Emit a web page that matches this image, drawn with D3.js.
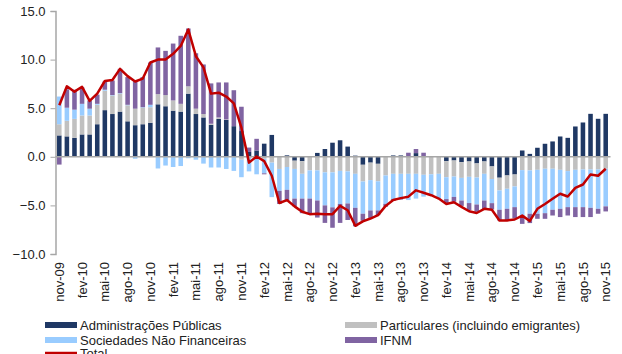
<!DOCTYPE html>
<html>
<head>
<meta charset="utf-8">
<script src="https://cdn.jsdelivr.net/npm/d3@7/dist/d3.min.js"></script>
<style>
  html, body { margin: 0; padding: 0; background: #fff; }
  svg { display: block; font-family: "Liberation Sans", Arial, sans-serif; }
</style>
</head>
<body>
<svg id="chart" width="622" height="354"></svg>
<script>
// Monthly categories, nov-09 .. nov-15
const monthNames = ["jan","fev","mar","abr","mai","jun","jul","ago","set","out","nov","dez"];
const months = [];
for (let y = 2009, m = 10; y < 2015 || (y === 2015 && m <= 10); m++) {
  if (m === 12) { m = 0; y++; }
  months.push(monthNames[m] + "-" + String(y).slice(2));
}

// Contributions (p.p.)
const administracoesPublicas = [
  2.2, 2.1, 1.95, 2.3, 2.3, 3.35, 4.8, 4.4, 4.65, 3.65, 3.25, 3.35,
  3.5, 5.4, 5.2, 4.75, 4.65, 6.5, 4.4, 4.05, 3.3, 3.9, 3.8, 3.15,
  2.65, 0.5, 0.65, 1.35, 2.25, 0.0, 0.15, -0.4, -0.45, 0.0, 0.4, 0.8,
  1.45, 1.7, 1.05, 0.12, -0.82, -0.6, -0.72, 0.0, 0.14, 0.14, 0.0, 0.38,
  0.0, 0.0, 0.0, -0.45, -0.38, -0.55, -0.48, -0.68, -0.48, -0.99, -2.15, -1.92,
  -1.82, 0.65, 0.3, 0.93, 1.34, 1.58, 2.09, 1.95, 3.12, 3.53, 4.42, 3.91,
  4.42
];
const particulares = [
  1.15, 1.6, 1.95, 1.95, 1.95, 2.0, 2.0, 1.9, 1.85, 1.65, 1.7, 1.7,
  1.6, 1.05, 1.15, 1.05, 0.8, 0.75, 0.55, 0.35, 0.1, 0.15, 0.05, 0.0,
  -0.3, -0.1, -0.2, -0.2, -0.6, -1.25, -1.05, -0.85, -1.3, -1.4, -1.4, -1.6,
  -1.6, -1.45, -1.5, -1.75, -1.72, -1.8, -1.8, -1.92, -1.75, -1.75, -1.75, -1.75,
  -1.85, -1.8, -1.75, -1.65, -1.65, -1.62, -1.58, -1.45, -1.27, -1.3, -1.31, -1.37,
  -1.23, -1.37, -1.4, -1.34, -1.23, -1.23, -1.34, -1.47, -1.34, -1.3, -1.3, -1.3,
  -1.23
];
const sociedadesNaoFinanceiras = [
  2.85, 1.35, 0.95, 1.2, 0.7, 0.1, 0.1, 0.05, 0.05, 0.05, -0.2, 0.05,
  0.25, -1.2, -0.9, -1.05, -0.95, -0.15, -0.3, -0.7, -1.1, -1.1, -1.25, -1.45,
  -1.8, -1.4, -1.6, -1.5, -3.55, -2.25, -2.35, -3.05, -2.55, -2.9, -3.1, -3.4,
  -3.6, -3.4, -3.3, -3.5, -3.32, -3.12, -3.0, -2.92, -2.6, -2.5, -2.7, -2.55,
  -2.25, -2.1, -2.55, -2.25, -2.1, -2.33, -2.7, -2.78, -2.75, -2.48, -1.99, -2.06,
  -2.13, -4.67, -4.46, -4.52, -4.57, -4.22, -4.01, -3.71, -3.84, -3.88, -3.95, -4.05,
  -3.87
];
const ifnm = [
  -0.8, 1.9, 2.05, 1.7, 0.85, 0.95, 0.85, 1.5, 2.5, 2.85, 2.9, 3.1,
  4.35, 4.8, 4.55, 5.85, 7.0, 5.95, 5.7, 5.1, 4.15, 3.6, 3.8, 3.7,
  2.5, 0.45, 1.2, -0.1, 0.0, -1.35, -1.1, -0.8, -1.5, -1.55, -1.75, -1.8,
  -2.1, -1.95, -1.7, -1.9, -0.72, -0.76, -0.48, -0.3, -0.2, -0.15, 0.42, 0.42,
  0.42, -0.05, 0.0, -0.45, -0.5, -0.55, -0.72, -0.75, -0.9, -0.65, -1.1, -1.2,
  -1.15, -0.86, -0.96, -0.52, -0.58, -0.59, -0.85, -0.86, -1.02, -1.02, -0.95, -0.51,
  -0.52
];
const total = [
  5.3, 7.25, 6.7, 7.2, 5.75, 6.5, 7.8, 7.9, 9.05, 8.3, 7.75, 8.05,
  9.7, 10.0, 10.0, 10.6, 11.4, 13.1, 10.35, 9.2, 6.5, 6.6, 6.2, 5.5,
  3.0, -0.6, 0.03, -0.45, -1.95, -4.75, -4.45, -5.1, -5.65, -5.9, -5.85, -5.9,
  -5.9, -5.05, -5.5, -7.1, -6.65, -6.35, -6.0, -5.05, -4.45, -4.25, -4.1, -3.45,
  -3.7, -3.95, -4.3, -4.85, -4.68, -5.15, -5.6, -5.78, -5.35, -5.45, -6.55, -6.55,
  -6.45, -6.05, -6.6, -5.35, -4.85, -4.32, -3.8, -4.08, -3.19, -2.85, -1.82, -1.95,
  -1.23
];

const yTicks = [15, 10, 5, 0, -5, -10];
const xTickLabels = months.filter((d, i) => i % 3 === 0);

const seriesKeys = ["ap", "part", "snf", "ifnm"];
const seriesNames = {
  ap: "Administrações Públicas",
  part: "Particulares (incluindo emigrantes)",
  snf: "Sociedades Não Financeiras",
  ifnm: "IFNM"
};
const colors = { ap: "#1f3864", part: "#c0c0c0", snf: "#99ccff", ifnm: "#8064a2", total: "#c00000" };

const table = months.map((m, i) => ({
  month: m,
  ap: administracoesPublicas[i],
  part: particulares[i],
  snf: sociedadesNaoFinanceiras[i],
  ifnm: ifnm[i],
  total: total[i]
}));

const svg = d3.select("#chart");
const plot = { left: 55.5, right: 609.5, top: 11, bottom: 254 };

const x = d3.scaleBand().domain(months)
  .range([plot.left, plot.right]).paddingInner(0.4).paddingOuter(0.2);
const y = d3.scaleLinear().domain([-10, 15]).range([plot.bottom, plot.top]);

const stack = d3.stack().keys(seriesKeys).offset(d3.stackOffsetDiverging);
const layers = stack(table);

svg.append("g").selectAll("g").data(layers).join("g")
  .attr("fill", d => colors[d.key])
  .selectAll("rect").data(d => d).join("rect")
  .attr("x", d => x(d.data.month))
  .attr("width", x.bandwidth())
  .attr("y", d => y(Math.max(d[0], d[1])))
  .attr("height", d => Math.abs(y(d[0]) - y(d[1])));

// zero line
svg.append("line")
  .attr("x1", plot.left).attr("x2", plot.right + 1)
  .attr("y1", y(0)).attr("y2", y(0))
  .attr("stroke", "#a6a6a6").attr("stroke-width", 1.5);

// total line
svg.append("path").datum(table)
  .attr("fill", "none").attr("stroke", colors.total)
  .attr("stroke-width", 2.5).attr("stroke-linejoin", "round")
  .attr("d", d3.line().x(d => x(d.month) + x.bandwidth() / 2).y(d => y(d.total)));

// y axis
const yAxis = svg.append("g")
  .attr("transform", `translate(${plot.left},0)`)
  .call(d3.axisLeft(y).tickValues(yTicks).tickFormat(d3.format(".1f")).tickSizeOuter(0).tickSize(5).tickPadding(5));
yAxis.select(".domain").attr("stroke", "#a6a6a6").attr("stroke-width", 1.5);
yAxis.selectAll(".tick line").attr("stroke", "#a6a6a6");
yAxis.selectAll(".tick text").attr("font-size", 13).attr("fill", "#222")
  .attr("font-family", "Liberation Sans, Arial, sans-serif");

// x labels
const xAxis = svg.append("g")
  .attr("transform", `translate(0,${plot.bottom + 8})`)
  .call(d3.axisBottom(x).tickValues(xTickLabels).tickSize(0).tickPadding(0));
xAxis.select(".domain").remove();
xAxis.selectAll(".tick text")
  .attr("font-size", 13).attr("fill", "#222")
  .attr("font-family", "Liberation Sans, Arial, sans-serif")
  .attr("text-anchor", "end")
  .attr("transform", "rotate(-90)")
  .attr("x", 0).attr("y", 0).attr("dy", "0.35em");

// legend
const legendItems = [
  { key: "ap", x: 45, y: 325 },
  { key: "snf", x: 45, y: 340 },
  { key: "part", x: 345, y: 325 },
  { key: "ifnm", x: 345, y: 340 }
];
const lg = svg.append("g");
legendItems.forEach(it => {
  lg.append("rect").attr("x", it.x).attr("y", it.y - 3).attr("width", 32).attr("height", 6)
    .attr("fill", colors[it.key]);
  lg.append("text").attr("x", it.x + 35).attr("y", it.y).attr("dy", "0.35em")
    .attr("font-size", 13).attr("fill", "#222").text(seriesNames[it.key]);
});
lg.append("line").attr("x1", 45).attr("x2", 77).attr("y1", 353).attr("y2", 353)
  .attr("stroke", colors.total).attr("stroke-width", 2.5);
lg.append("text").attr("x", 80).attr("y", 353).attr("dy", "0.35em")
  .attr("font-size", 13).attr("fill", "#222").text("Total");
</script>
</body>
</html>
